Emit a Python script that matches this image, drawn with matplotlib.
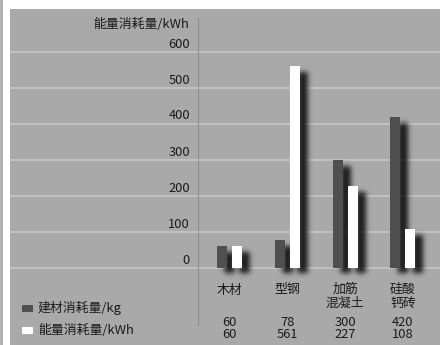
import numpy as np
import matplotlib
matplotlib.use("Agg")
import matplotlib.pyplot as plt
from matplotlib.patches import Rectangle
from matplotlib import transforms

plt.rcParams['font.family'] = ['Noto Sans CJK SC', 'DejaVu Sans']

materials = ['木材', '型钢', '加筋\n混凝土', '硅酸\n钙砖']
material_use = [60, 78, 300, 420]      # 建材消耗量/kg
energy_use = [60, 561, 227, 108]       # 能量消耗量/kWh
y_ticks = [0, 100, 200, 300, 400, 500, 600]
series_names = ['建材消耗量/kg', '能量消耗量/kWh']

BG = '#a9a9a9'
GRID = '#c6c6c6'
DARK = '#4f4f4f'
TXT = '#1a1a1a'
FS = 9.3

W, H = 440, 345
fig = plt.figure(figsize=(W / 100, H / 100), dpi=100, facecolor='white')

# thin grey strip at the far left
fig.patches.append(Rectangle((0, 0), 3 / W, 1, transform=fig.transFigure,
                             facecolor='#b2b2b2', edgecolor='none'))

ax = fig.add_axes([10 / W, 0, (W - 10) / W, (H - 9) / H], facecolor=BG)
for s in ax.spines.values():
    s.set_visible(False)
ax.set_xticks([])
ax.set_yticks([])

# pixel scale of the plot
x0_px, dx_px = 229.5, 57.8     # first category centre, category spacing
y0_px, ky = 268.0, 0.36        # zero line, pixels per kWh
xlim = ((10 - x0_px) / dx_px, (W - x0_px) / dx_px)
ylim = ((y0_px - H) / ky, (y0_px - 9) / ky)
ax.set_xlim(*xlim)
ax.set_ylim(*ylim)


def px_x(n):
    return n / dx_px


def row_y(py):
    return (y0_px - py) / ky


for v in y_ticks:
    ax.axhline(v, color=GRID, lw=1.2, zorder=1)

lab_tr = transforms.offset_copy(ax.transData, fig=fig, x=0, y=8, units='dots')
lab_x = (190 - x0_px) / dx_px
for v in y_ticks:
    ax.text(lab_x, v, str(v), ha='right', va='center', fontsize=FS,
            color=TXT, transform=lab_tr)
ax.text(lab_x - px_x(1), row_y(24), '能量消耗量/kWh', ha='right', va='center',
        fontsize=FS, color=TXT)

ax.axvline((198 - x0_px) / dx_px, ymin=(H - 325) / (H - 9),
           ymax=(H - 18) / (H - 9), color='#8f8f8f', lw=0.8, zorder=1)

idx = list(range(len(materials)))
bw = px_x(10)
off = px_x(7.5)
xs_dark = [i - off for i in idx]
xs_white = [i + off for i in idx]

ax.bar(xs_dark, material_use, width=bw, color=DARK, edgecolor='none', zorder=3)
ax.bar(xs_white, energy_use, width=bw, color='white', edgecolor='none', zorder=4)

# blurred drop shadow: rasterise the bar footprints in pixel space, shift, blur
aw, ah = W - 10, H - 9
mask = np.zeros((ah, aw))
for xs, vals in ((xs_dark, material_use), (xs_white, energy_use)):
    for x, v in zip(xs, vals):
        (l, b), (r, t) = ax.transData.transform([(x - bw / 2, 0), (x + bw / 2, v)])
        l, r = l - 10 + 7, r - 10 + 7          # shift right
        t, b = t - 6, b - 5                    # shift down, extend a little
        c0, c1 = int(round(l)), int(round(r))
        r0, r1 = int(round(ah - t)), int(round(ah - b))
        mask[max(r0, 0):min(r1, ah), max(c0, 0):min(c1, aw)] = 1.0
sig = 2.6
k = np.arange(-9, 10)
g = np.exp(-k ** 2 / (2 * sig ** 2))
g /= g.sum()
mask = np.apply_along_axis(lambda m: np.convolve(m, g, mode='same'), 1, mask)
mask = np.apply_along_axis(lambda m: np.convolve(m, g, mode='same'), 0, mask)
shadow = np.zeros((ah, aw, 4))
shadow[..., 3] = np.clip(mask * 0.85, 0, 1)
ax.imshow(shadow, extent=(*xlim, *ylim), origin='upper', aspect='auto',
          interpolation='bilinear', zorder=2)
ax.set_xlim(*xlim)
ax.set_ylim(*ylim)

for i, name in enumerate(materials):
    ax.text(i, row_y(290 if '\n' not in name else 296), name, ha='center',
            va='center', fontsize=FS, color=TXT, linespacing=1.1)
    ax.text(i, row_y(322), str(material_use[i]), ha='center', va='center',
            fontsize=FS, color=TXT)
    ax.text(i, row_y(335), str(energy_use[i]), ha='center', va='center',
            fontsize=FS, color=TXT)

# legend
for j, (name, col) in enumerate(zip(series_names, [DARK, 'white'])):
    cy = 308 + 22 * j
    fig.patches.append(Rectangle((22 / W, 1 - (cy + 3.5) / H), 11 / W, 7 / H,
                                 transform=fig.transFigure, facecolor=col,
                                 edgecolor='none'))
    fig.text(38 / W, 1 - cy / H, name, ha='left', va='center', fontsize=FS,
             color=TXT)

fig.savefig('out.png', dpi=100, facecolor='white')
